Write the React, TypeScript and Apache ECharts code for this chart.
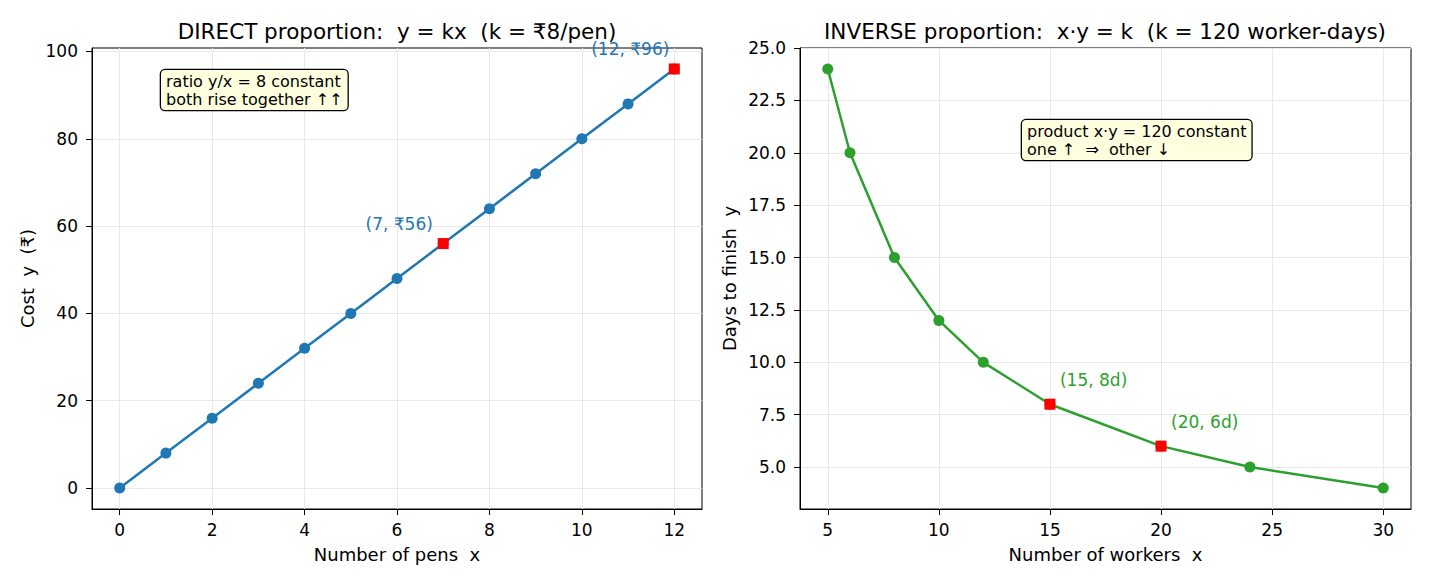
import React, { useEffect, useRef } from "react";
import * as echarts from "echarts";

const pens = [0, 1, 2, 3, 4, 5, 6, 7, 8, 9, 10, 11, 12];
const cost = [0, 8, 16, 24, 32, 40, 48, 56, 64, 72, 80, 88, 96];
const directHighlights = [[7, 56], [12, 96]];
const directLabels = ["(7, ₹56)", "(12, ₹96)"];

const workers = [5, 6, 8, 10, 12, 15, 20, 24, 30];
const days = [24, 20, 15, 12, 10, 8, 6, 5, 4];
const inverseHighlights = [[15, 8], [20, 6]];
const inverseLabels = ["(15, 8d)", "(20, 6d)"];

const leftXTicks = [0, 2, 4, 6, 8, 10, 12];
const leftYTicks = [0, 20, 40, 60, 80, 100];
const rightXTicks = [5, 10, 15, 20, 25, 30];
const rightYTicks = [5, 7.5, 10, 12.5, 15, 17.5, 20, 22.5, 25];

const FONT = "DejaVu Sans";
const BLUE = "#1f77b4";
const GREEN = "#2ca02c";
const GRIDC = "#e8e8e8";

function axisCommon(ticks: number[], margin: number, fmt?: (v: number) => string) {
  return {
    axisLine: { show: true, onZero: false, lineStyle: { color: "#000", width: 1 } },
    axisTick: { show: true, inside: false, length: 6, customValues: ticks, lineStyle: { color: "#000", width: 1 } },
    axisLabel: {
      show: true,
      customValues: ticks,
      fontSize: 17,
      fontFamily: FONT,
      color: "#000",
      margin,
      formatter: fmt ? (v: number) => fmt(v) : (v: number) => String(v),
    },
    splitLine: { show: true, lineStyle: { color: GRIDC, width: 1 } },
    nameTextStyle: { fontSize: 18, fontFamily: FONT, color: "#000" },
    nameLocation: "middle",
  };
}

export default function App() {
  const ref = useRef<HTMLDivElement>(null);
  useEffect(() => {
    document.body.style.margin = "0";
    const chart = echarts.init(ref.current!, null, { renderer: "svg" });
    const option: any = {
      animation: false,
      textStyle: { fontFamily: FONT },
      grid: [
        { left: 92, top: 48, width: 610, height: 461, show: true, borderColor: "#000", borderWidth: 1 },
        { left: 800, top: 48, width: 611, height: 461, show: true, borderColor: "#000", borderWidth: 1 },
      ],
      xAxis: [
        { type: "value", gridIndex: 0, min: -0.6, max: 12.6, name: "Number of pens  x", nameGap: 36, ...axisCommon(leftXTicks, 12) },
        { type: "value", gridIndex: 1, min: 3.75, max: 31.25, name: "Number of workers  x", nameGap: 36, ...axisCommon(rightXTicks, 12) },
      ],
      yAxis: [
        { type: "value", gridIndex: 0, min: -4.8, max: 100.8, name: "Cost  y  (₹)", nameGap: 56, ...axisCommon(leftYTicks, 14) },
        {
          type: "value", gridIndex: 1, min: 3, max: 25, name: "Days to finish  y", nameGap: 62,
          ...axisCommon(rightYTicks, 14, (v) => v.toFixed(1)),
        },
      ],
      series: [
        {
          type: "line", xAxisIndex: 0, yAxisIndex: 0,
          data: pens.map((x, i) => [x, cost[i]]),
          symbol: "circle", symbolSize: 11,
          lineStyle: { color: BLUE, width: 2.5 },
          itemStyle: { color: BLUE, opacity: 1 },
          z: 3,
        },
        {
          type: "scatter", xAxisIndex: 0, yAxisIndex: 0,
          data: directHighlights.map((p, i) => ({ value: p, name: directLabels[i] })),
          symbol: "rect", symbolSize: 11,
          itemStyle: { color: "#ff0000", opacity: 1 },
          label: {
            show: true, formatter: (p: any) => p.name, position: [-38.5, -14],
            align: "center", verticalAlign: "middle", color: BLUE, fontSize: 17, fontFamily: FONT,
          },
          z: 5,
        },
        {
          type: "line", xAxisIndex: 1, yAxisIndex: 1,
          data: workers.map((x, i) => [x, days[i]]),
          symbol: "circle", symbolSize: 11,
          lineStyle: { color: GREEN, width: 2.5 },
          itemStyle: { color: GREEN, opacity: 1 },
          z: 3,
        },
        {
          type: "scatter", xAxisIndex: 1, yAxisIndex: 1,
          data: inverseHighlights.map((p, i) => ({ value: p, name: inverseLabels[i] })),
          symbol: "rect", symbolSize: 11,
          itemStyle: { color: "#ff0000", opacity: 1 },
          label: {
            show: true, formatter: (p: any) => p.name, position: [15.5, -19],
            align: "left", verticalAlign: "middle", color: GREEN, fontSize: 17, fontFamily: FONT,
          },
          z: 5,
        },
      ],
      graphic: [
        {
          type: "text", x: 397, y: 31, z: 10,
          style: {
            text: "DIRECT proportion:  y = kx  (k = ₹8/pen)", fontSize: 21.5, fontFamily: FONT, fill: "#000",
            align: "center", verticalAlign: "middle", textAlign: "center", textVerticalAlign: "middle",
          },
        },
        {
          type: "text", x: 1105, y: 31, z: 10,
          style: {
            text: "INVERSE proportion:  x·y = k  (k = 120 worker-days)", fontSize: 21.5, fontFamily: FONT, fill: "#000",
            align: "center", verticalAlign: "middle", textAlign: "center", textVerticalAlign: "middle",
          },
        },
        {
          type: "text", x: 161, y: 70, z: 10,
          style: {
            text: "ratio y/x = 8 constant\nboth rise together ↑↑", fontSize: 16, fontFamily: FONT, fill: "#000",
            lineHeight: 18, backgroundColor: "#ffffe0", borderColor: "#000", borderWidth: 1.3, borderRadius: 4,
            padding: [2, 5, 2, 5], align: "left", verticalAlign: "top", textAlign: "left", textVerticalAlign: "top",
          },
        },
        {
          type: "text", x: 1022, y: 120, z: 10,
          style: {
            text: "product x·y = 120 constant\none ↑  ⇒  other ↓", fontSize: 16, fontFamily: FONT, fill: "#000",
            lineHeight: 18, backgroundColor: "#ffffe0", borderColor: "#000", borderWidth: 1.3, borderRadius: 4,
            padding: [2, 5, 2, 5], align: "left", verticalAlign: "top", textAlign: "left", textVerticalAlign: "top",
          },
        },
      ],
    };
    chart.setOption(option);
    return () => chart.dispose();
  }, []);
  return <div ref={ref} style={{ position: "absolute", left: 0, top: 0, width: 1430, height: 585 }} />;
}
